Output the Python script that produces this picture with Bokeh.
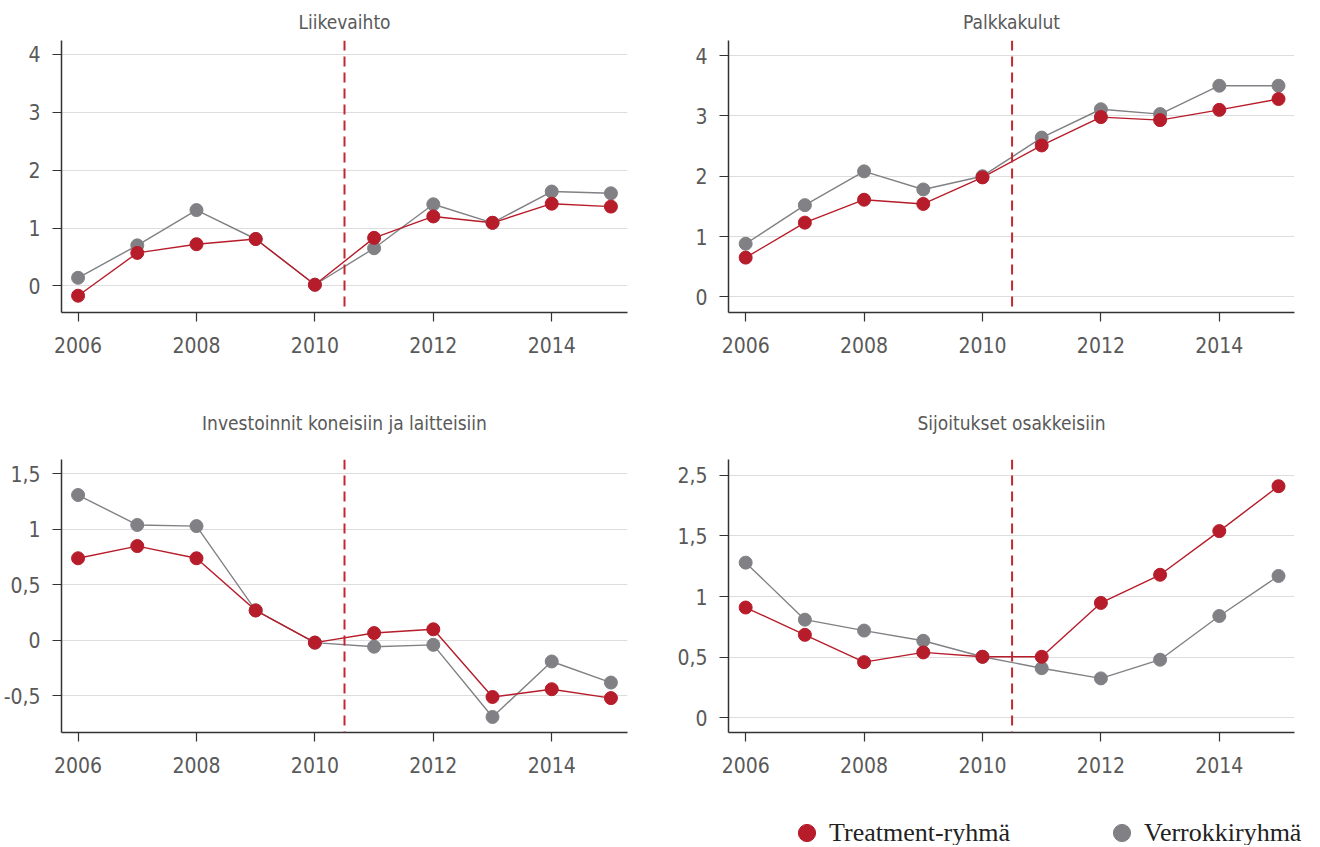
from bokeh.plotting import figure
from bokeh.layouts import gridplot, column
from bokeh.models import Span, Legend, LegendItem, FixedTicker, Range1d
from bokeh.embed import file_html
from bokeh.resources import INLINE

years = [2006, 2007, 2008, 2009, 2010, 2011, 2012, 2013, 2014, 2015]

# Liikevaihto
liike_treat = [-0.17, 0.57, 0.72, 0.81, 0.02, 0.83, 1.20, 1.09, 1.42, 1.37]
liike_ctrl = [0.14, 0.70, 1.31, 0.81, 0.02, 0.65, 1.41, 1.09, 1.63, 1.60]
# Palkkakulut
palkka_treat = [0.65, 1.23, 1.61, 1.54, 1.98, 2.51, 2.98, 2.93, 3.10, 3.28]
palkka_ctrl = [0.88, 1.52, 2.08, 1.78, 2.00, 2.64, 3.11, 3.03, 3.50, 3.50]
# Investoinnit koneisiin ja laitteisiin
invest_treat = [0.74, 0.85, 0.74, 0.27, -0.02, 0.066, 0.10, -0.51, -0.44, -0.52]
invest_ctrl = [1.31, 1.04, 1.03, 0.27, -0.02, -0.057, -0.04, -0.69, -0.19, -0.38]
# Sijoitukset osakkeisiin (plotted in axis position units)
sijoit_treat = [0.91, 0.685, 0.46, 0.54, 0.504, 0.504, 0.948, 1.18, 1.54, 1.91]
sijoit_ctrl = [1.28, 0.81, 0.72, 0.636, 0.504, 0.41, 0.326, 0.48, 0.84, 1.17]

titles = ["Liikevaihto", "Palkkakulut", "Investoinnit koneisiin ja laitteisiin", "Sijoitukset osakkeisiin"]
x_ticks = [2006, 2008, 2010, 2012, 2014]
y_ticks = [[0, 1, 2, 3, 4], [0, 1, 2, 3, 4], [-0.5, 0, 0.5, 1, 1.5], [0, 0.5, 1, 1.5, 2]]
y_tick_labels = [["0", "1", "2", "3", "4"], ["0", "1", "2", "3", "4"],
                 ["-0,5", "0", "0,5", "1", "1,5"], ["0", "0,5", "1", "1,5", "2,5"]]
legend_labels = ["Treatment-ryhmä", "Verrokkiryhmä"]
reform_year = 2010.5

RED = "#b71c2a"
GREY = "#818185"
FONT = "DejaVu Sans Condensed, Roboto"
TXT = "#595959"


def make_panel(idx, treat, ctrl, width, height, mb, yr, xr, title_standoff):
    p = figure(width=width, height=height, output_backend="svg", toolbar_location=None,
               x_range=Range1d(*xr), y_range=Range1d(*yr),
               min_border_left=mb[0], min_border_right=mb[1],
               min_border_top=mb[2], min_border_bottom=mb[3])
    p.title.text = titles[idx]
    p.title.align = "center"
    p.title.text_font = FONT
    p.title.text_font_size = "19px"
    p.title.text_font_style = "normal"
    p.title.text_color = TXT
    p.title.standoff = title_standoff
    p.outline_line_color = None
    p.background_fill_color = "white"
    p.border_fill_color = "white"

    p.xgrid.grid_line_color = None
    p.ygrid.grid_line_color = "#dddddd"
    p.ygrid.grid_line_width = 1.2

    for ax in (p.xaxis[0], p.yaxis[0]):
        ax.axis_line_color = "#333333"
        ax.axis_line_width = 1.5
        ax.major_tick_line_color = "#333333"
        ax.major_tick_line_width = 1.2
        ax.major_tick_out = 9
        ax.major_tick_in = 0
        ax.minor_tick_line_color = None
        ax.major_label_text_font = FONT
        ax.major_label_text_font_size = "21px"
        ax.major_label_text_color = TXT
    p.xaxis.ticker = FixedTicker(ticks=x_ticks)
    p.xaxis.major_label_standoff = 15
    p.yaxis.ticker = FixedTicker(ticks=y_ticks[idx])
    p.yaxis.major_label_overrides = {t: l for t, l in zip(y_ticks[idx], y_tick_labels[idx])}
    p.yaxis.major_label_standoff = 12

    p.add_layout(Span(location=reform_year, dimension="height", line_color="#c0282f",
                      line_width=2, line_dash="10 6"))

    p.line(years, ctrl, line_color=GREY, line_width=1.4)
    p.line(years, treat, line_color=RED, line_width=1.4)
    p.scatter(years, ctrl, size=13, fill_color=GREY, line_color=GREY)
    p.scatter(years, treat, size=13, fill_color=RED, line_color=RED)
    return p


f1 = make_panel(0, liike_treat, liike_ctrl, 652, 380, (58, 25, 40, 67),
                (-0.46, 4.24), (2005.72, 2015.28), 16)
f2 = make_panel(1, palkka_treat, palkka_ctrl, 652, 380, (76, 10, 40, 68),
                (-0.26, 4.25), (2005.71, 2015.27), 16)
f3 = make_panel(2, invest_treat, invest_ctrl, 652, 425, (58, 25, 79, 73),
                (-0.83, 1.63), (2005.72, 2015.28), 52)
f4 = make_panel(3, sijoit_treat, sijoit_ctrl, 652, 425, (76, 10, 77, 73),
                (-0.12, 2.13), (2005.71, 2015.27), 52)

# legend strip below the panels; its proxy glyphs lie outside the strip's ranges
lf = figure(width=1304, height=40, output_backend="svg", toolbar_location=None,
            x_range=Range1d(0, 1), y_range=Range1d(0, 1),
            min_border_left=0, min_border_right=0, min_border_top=0, min_border_bottom=0)
lf.axis.visible = False
lf.grid.grid_line_color = None
lf.outline_line_color = None
lf.border_fill_color = "white"
lt = lf.scatter(years[:1], sijoit_treat[:1], fill_color=RED, line_color=RED)
lc = lf.scatter(years[:1], sijoit_ctrl[:1], fill_color=GREY, line_color=GREY)
legend = Legend(items=[LegendItem(label=legend_labels[0], renderers=[lt]),
                       LegendItem(label=legend_labels[1], renderers=[lc])],
                orientation="horizontal", location=(785, -9))
legend.label_text_font = "Liberation Serif"
legend.label_text_font_size = "26px"
legend.label_text_color = "#222222"
legend.border_line_color = None
legend.background_fill_alpha = 0
legend.spacing = 90
legend.glyph_width = 43
legend.glyph_height = 43
legend.label_height = 43
legend.label_standoff = 1
legend.padding = 0
legend.margin = 0
lf.add_layout(legend, "center")

grid = gridplot([[f1, f2], [f3, f4]], toolbar_location=None)
open("out.html", "w").write(file_html(column(grid, lf), INLINE))
